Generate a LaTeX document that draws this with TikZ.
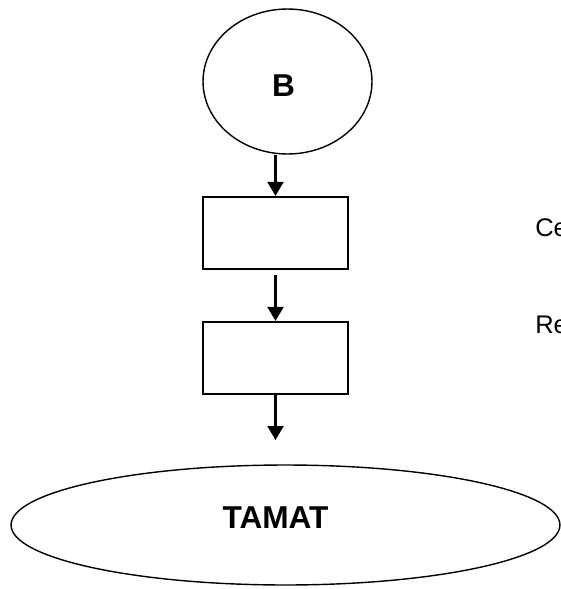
\documentclass[tikz,border=0pt]{standalone}
\usepackage{fontspec}
\setmainfont{Liberation Sans}
\usetikzlibrary{shapes.geometric,arrows.meta}

\begin{document}
\begin{tikzpicture}[x=0.02cm, y=-0.02cm,
  box/.style={draw, line width=1.3pt, minimum width=2.9cm, minimum height=1.44cm, inner sep=0},
  oval/.style={draw, ellipse, line width=0.8pt, inner sep=0},
  flow/.style={line width=1.3pt, -{Triangle[length=0.28cm, width=0.32cm]}},
  title/.style={font=\bfseries\fontsize{18}{21}\selectfont, inner sep=0},
  side/.style={font=\fontsize{14.5}{17}\selectfont, anchor=base west, inner sep=0}]
\useasboundingbox (0,0) rectangle (561,589); % page
\clip (0,0) rectangle (561,589);
\node[oval, minimum width=3.38cm, minimum height=2.9cm] (b) at (287.5,81.5) {}; % start circle
\node[title] (btext) at (283.5,85.5) {B};
\node[box] (box1) at (275.5,233) {}; % first step
\node[box] (box2) at (275.5,358) {}; % second step
\node[oval, minimum width=10.98cm, minimum height=2.4cm] (tamat) at (285.5,525) {}; % end oval
\node[title] (tamattext) at (275.5,517.5) {TAMAT};
\node[side] (ce) at (535,236) {Ce}; % side notes
\node[side] (re) at (535,333) {Re};
\coordinate (end3) at (275.5,440);
\draw[flow] (b.south -| box1.north) -- (box1.north); % arrows
\draw[flow, shorten <=0.1cm] (box1.south) -- (box2.north);
\draw[flow] (box2.south) -- (end3);
\end{tikzpicture}
\end{document}
